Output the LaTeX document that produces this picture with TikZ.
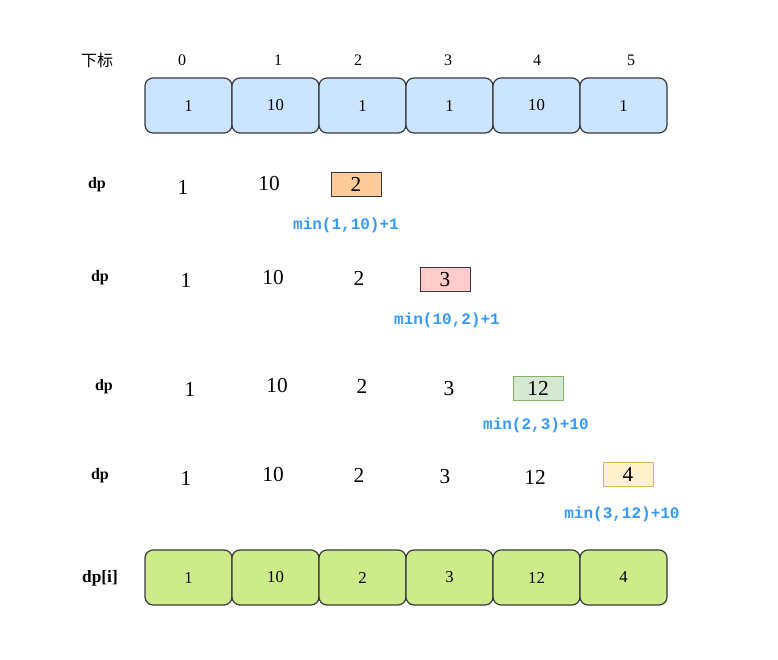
\documentclass[tikz,border=0pt]{standalone}
\usepackage{fontspec}
\setmainfont{Liberation Serif}
\newfontfamily\cjkfont{Noto Sans CJK SC}
\newfontfamily\codefont{Liberation Mono}
\definecolor{cellblue}{HTML}{CCE5FF}
\definecolor{cellgreen}{HTML}{CDEB8B}
\definecolor{edgegray}{HTML}{36393D}
\definecolor{boxorange}{HTML}{FFCC99}
\definecolor{boxpink}{HTML}{FFCCCC}
\definecolor{boxgreen}{HTML}{D5E8D4}
\definecolor{boxgreenedge}{HTML}{82B366}
\definecolor{boxyellow}{HTML}{FFF2CC}
\definecolor{boxyellowedge}{HTML}{D6B656}
\definecolor{formblue}{HTML}{3399FF}
\begin{document}
\begin{tikzpicture}[x=0.75pt,y=-0.75pt,
  cell/.style={draw=edgegray, line width=0.9pt, rounded corners=6pt,
    minimum width=65.25pt, minimum height=41.25pt, inner sep=0pt,
    font=\fontsize{12.5}{14}\selectfont},
  hilite/.style={draw=edgegray, line width=0.7pt, minimum width=37.5pt,
    minimum height=18pt, inner sep=0pt, font=\fontsize{16}{18}\selectfont},
  idx/.style={font=\fontsize{12}{14}\selectfont, inner sep=0pt},
  val/.style={font=\fontsize{16}{18}\selectfont, inner sep=0pt},
  rowlabel/.style={font=\bfseries\fontsize{12}{14}\selectfont, inner sep=0pt},
  formula/.style={font=\codefont\bfseries\fontsize{12}{14}\selectfont, text=formblue, inner sep=0pt}]
\useasboundingbox (0,0) rectangle (778,660);
% header
\node[font=\cjkfont\fontsize{12}{14}\selectfont, inner sep=0pt] (hdr) at (97,60) {下标};
\node[idx] (i0) at (182,60) {0};
\node[idx] (i1) at (278,60) {1};
\node[idx] (i2) at (358,60) {2};
\node[idx] (i3) at (448,60) {3};
\node[idx] (i4) at (537,60) {4};
\node[idx] (i5) at (631,60) {5};
% top array
\node[cell, fill=cellblue] (a0) at (188.5,105.5) {1};
\node[cell, fill=cellblue] (a1) at (275.5,105.5) {10};
\node[cell, fill=cellblue] (a2) at (362.5,105.5) {1};
\node[cell, fill=cellblue] (a3) at (449.5,105.5) {1};
\node[cell, fill=cellblue] (a4) at (536.5,105.5) {10};
\node[cell, fill=cellblue] (a5) at (623.5,105.5) {1};
% row 1
\node[rowlabel] (d1) at (97,185) {dp};
\node[val] (r1a) at (183,187) {1};
\node[val] (r1b) at (269,184) {10};
\node[hilite, fill=boxorange] (r1c) at (356,184) {2};
\node[formula] (f1) at (346,225) {min(1,10)+1};
% row 2
\node[rowlabel] (d2) at (100,278) {dp};
\node[val] (r2a) at (186,280) {1};
\node[val] (r2b) at (273,278) {10};
\node[val] (r2c) at (359,278) {2};
\node[hilite, fill=boxpink] (r2d) at (445,279.5) {3};
\node[formula] (f2) at (447,320) {min(10,2)+1};
% row 3
\node[rowlabel] (d3) at (104,387) {dp};
\node[val] (r3a) at (190,389) {1};
\node[val] (r3b) at (277,386) {10};
\node[val] (r3c) at (362,386) {2};
\node[val] (r3d) at (449,389) {3};
\node[hilite, fill=boxgreen, draw=boxgreenedge] (r3e) at (538,388) {12};
\node[formula] (f3) at (536,425) {min(2,3)+10};
% row 4
\node[rowlabel] (d4) at (100,476) {dp};
\node[val] (r4a) at (186,478) {1};
\node[val] (r4b) at (273,475) {10};
\node[val] (r4c) at (359,475) {2};
\node[val] (r4d) at (445,477) {3};
\node[val] (r4e) at (535,477) {12};
\node[hilite, fill=boxyellow, draw=boxyellowedge] (r4f) at (628,474.5) {4};
\node[formula] (f4) at (622,514) {min(3,12)+10};
% bottom array
\node[rowlabel, font=\bfseries\fontsize{13}{15}\selectfont] (dpi) at (100,578) {dp[i]};
\node[cell, fill=cellgreen] (b0) at (188.5,577.5) {1};
\node[cell, fill=cellgreen] (b1) at (275.5,577.5) {10};
\node[cell, fill=cellgreen] (b2) at (362.5,577.5) {2};
\node[cell, fill=cellgreen] (b3) at (449.5,577.5) {3};
\node[cell, fill=cellgreen] (b4) at (536.5,577.5) {12};
\node[cell, fill=cellgreen] (b5) at (623.5,577.5) {4};
\end{tikzpicture}
\end{document}
